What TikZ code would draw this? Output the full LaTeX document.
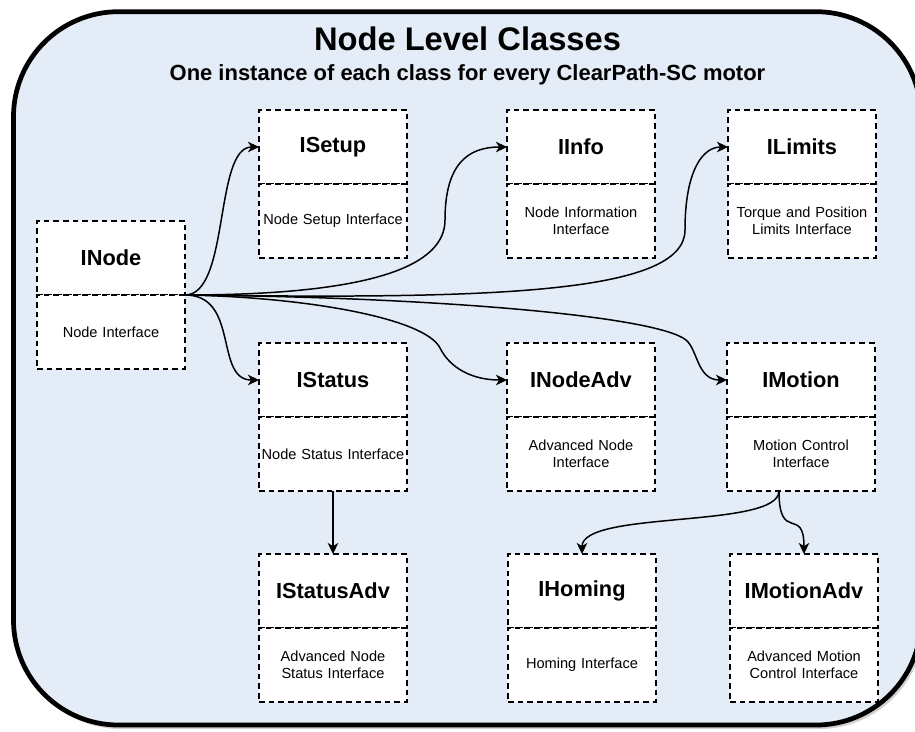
\documentclass[tikz,border=0pt]{standalone}
\usepackage{fontspec}
\setmainfont{Liberation Sans}
\usepackage{tikz}
\usetikzlibrary{arrows.meta,positioning,calc}
\definecolor{fondbleu}{RGB}{228,236,247}

\begin{document}
\begin{tikzpicture}[x=0.02cm, y=-0.02cm,
  classhead/.style={draw, dash pattern=on 3.2pt off 2.3pt, line width=0.75pt, fill=white,
    minimum width=2.96cm, minimum height=1.48cm, inner sep=0pt, outer sep=0pt,
    font=\fontsize{12.4}{15}\selectfont\bfseries},
  classbody/.style={classhead, font=\fontsize{8.3}{9.9}\selectfont, align=center, text width=2.92cm},
  link/.style={-{Stealth[length=6.3pt,width=6pt,inset=1.8pt]}, line width=0.85pt}]

\useasboundingbox (0,0) rectangle (915,731);
\clip (0,0) rectangle (915,731);

% frame
\fill[black!18, rounded corners=2.1cm] (16,15) rectangle (924,729);
\draw[line width=2.7pt, fill=fondbleu, rounded corners=2.1cm] (13.5,11.7) rectangle (921,725);

\node[anchor=base, font=\fontsize{18.6}{22}\selectfont\bfseries] (titre) at (467.5,50) {Node Level Classes};
\node[anchor=base, font=\fontsize{12.5}{15}\selectfont\bfseries] (soustitre) at (467.5,80) {One instance of each class for every ClearPath-SC motor};

% class boxes
\foreach \nm/\x/\y/\titre/\texte in {
  inode/37/221/INode/{Node Interface},
  isetup/259/110/ISetup/{Node Setup Interface},
  iinfo/507/110/IInfo/{Node Information\\Interface},
  ilimits/728/110/ILimits/{Torque and Position\\Limits Interface},
  istatus/259/343/IStatus/{Node Status Interface},
  inodeadv/507/343/INodeAdv/{Advanced Node\\Interface},
  imotion/727/343/IMotion/{Motion Control\\Interface},
  istatusadv/259/554/IStatusAdv/{Advanced Node\\Status Interface},
  ihoming/508/554/IHoming/{Homing Interface},
  imotionadv/730/554/IMotionAdv/{Advanced Motion\\Control Interface}
} {
  \node[classhead, anchor=north west] (\nm) at (\x,\y) {\titre};
  \node[classbody, below=0cm of \nm] (\nm-b) {\texte};
}

% links from INode
\draw[link] (inode.south east) .. controls +(45,0) and +(-45,0) .. (isetup.west);
\draw[link] (inode.south east) .. controls +(55,0) and +(-45,0) .. (istatus.west);
\draw[link] (inode.south east) .. controls +(190,0) and +(0,45) .. ($(iinfo.west)+(-62,73)$)
  .. controls +(0,-55) and +(-40,0) .. (iinfo.west);
\draw[link] (inode.south east) .. controls +(300,4) and +(0,65) .. ($(ilimits.west)+(-43,83)$)
  .. controls +(0,-60) and +(-25,0) .. (ilimits.west);
\draw[link] (inode.south east) .. controls +(120,2) and +(-15,-30) .. ($(inodeadv.west)+(-67,-32)$)
  .. controls +(10,20) and +(-35,0) .. (inodeadv.west);
\draw[link] (inode.south east) .. controls +(250,2) and +(-30,-24) .. ($(imotion.west)+(-41,-40)$)
  .. controls +(12,10) and +(-30,0) .. (imotion.west);

% lower links
\draw[link] (istatus-b) -- (istatusadv);
\draw[link] ($(imotion-b.south)+(-22,0)$) .. controls +(0,38) and +(0,-44) .. (ihoming.north);
\draw[link] ($(imotion-b.south)+(-22,0)$) .. controls +(0,53) and +(0,-49) .. (imotionadv.north);
\end{tikzpicture}
\end{document}
